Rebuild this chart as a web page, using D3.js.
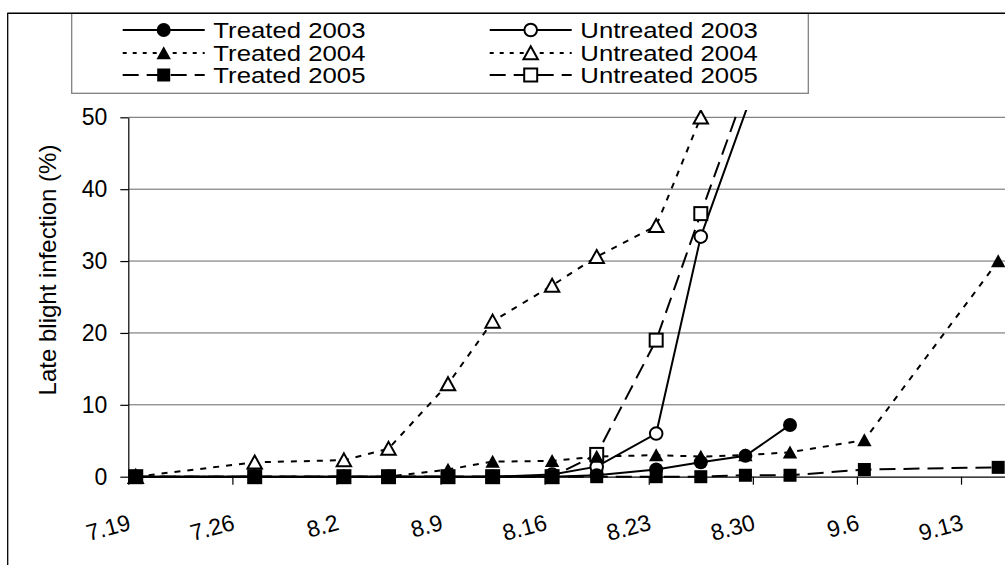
<!DOCTYPE html>
<meta charset="utf-8">
<head>
  <title>Late blight infection</title>
  <script src="https://d3js.org/d3.v7.min.js"></script>
  <style>
    body { margin: 0; background: #fff; }
    text { font-family: "Liberation Sans", Arial, sans-serif; fill: #000; }
    .grid line { stroke: #666; stroke-width: 1; }
    .axis path, .axis line { stroke: #000; stroke-width: 1.2; }
    .axis text { font-size: 23px; }
  </style>
</head>
<body>
<script>

// sampling dates, days after 7.19
var sampleDays  = [0, 8, 14, 17, 21, 24, 28, 31, 35, 38, 41, 44, 49, 58];
var sampleDates = ["7.19","7.27","8.2","8.5","8.9","8.12","8.16","8.19","8.23","8.26","8.29","9.1","9.6","9.15"];

var tickDays   = [0, 7, 14, 21, 28, 35, 42, 49, 56];
var tickLabels = ["7.19","7.26","8.2","8.9","8.16","8.23","8.30","9.6","9.13"];
var yTicks     = [0, 10, 20, 30, 40, 50];

// infection (%) per sampling date, null = not sampled
var treated2003   = [0, 0, 0, 0, 0, 0, 0, 0.2, 1.0, 2.0, 2.9, 7.2, null, null];
var untreated2003 = [0, 0, 0, 0, 0, 0, 0.3, 1.4, 6.0, 33.4, null, 68, null, null];
var treated2004   = [0, 0, 0, 0, 1.0, 2.1, 2.2, 2.8, 3.0, 2.8, 3.0, 3.4, 5.1, 30.0];
var untreated2004 = [0, 2.0, 2.3, 3.9, 12.9, 21.6, 26.6, 30.6, 34.9, 50.0, null, null, null, null];
var treated2005   = [0, 0, 0, 0, 0, 0, 0, 0, 0, 0, 0.2, 0.2, 1.0, 1.3];
var untreated2005 = [0, 0, 0, 0, 0, 0, 0, 3.1, 19.0, 36.6, null, 71, null, null];

var seriesNames = ["Treated 2003", "Untreated 2003", "Treated 2004", "Untreated 2004", "Treated 2005", "Untreated 2005"];
var seriesValues = [treated2003, untreated2003, treated2004, untreated2004, treated2005, untreated2005];

var styles = [
  {dash: null,   legendDash: null,   shape: "circle",   filled: true},
  {dash: null,   legendDash: null,   shape: "circle",   filled: false},
  {dash: "6,7",  legendDash: "4,6",  shape: "triangle", filled: true},
  {dash: "6,7",  legendDash: "4,6",  shape: "triangle", filled: false},
  {dash: "16,8", legendDash: "16,8", shape: "square",   filled: true},
  {dash: "16,8", legendDash: "16,8", shape: "square",   filled: false}
];

var series = seriesNames.map(function(name, i) {
  var pts = [];
  seriesValues[i].forEach(function(v, j) {
    if (v !== null) pts.push({day: sampleDays[j], date: sampleDates[j], value: v});
  });
  return {name: name, points: pts, style: styles[i]};
});

var W = 1005, H = 565;
var plotLeft = 128.3, plotBottom = 476.7, plotTop = 117.3;
var dayWidth = 14.87;

var svg = d3.select("body").append("svg")
    .attr("width", W)
    .attr("height", H);

var x = d3.scaleLinear().domain([0, 60]).range([plotLeft, plotLeft + 60 * dayWidth]);
var y = d3.scaleLinear().domain([0, 50]).range([plotBottom, plotTop]);
// Excel time axis puts each point in the middle of its day
function px(d) { return x(d.day + 0.5); }
function py(d) { return y(d.value); }

// outer chart frame
svg.append("rect")
    .attr("x", 7.7).attr("y", 13.3)
    .attr("width", 1100).attr("height", 700)
    .attr("fill", "#fff")
    .attr("stroke", "#000")
    .attr("stroke-width", 1.3);

// gridlines
svg.append("g")
    .attr("class", "grid")
  .selectAll("line")
    .data(yTicks.slice(1))
  .enter().append("line")
    .attr("x1", plotLeft).attr("x2", x(60))
    .attr("y1", function(d) { return y(d); })
    .attr("y2", function(d) { return y(d); });

svg.append("g")
    .attr("class", "axis")
    .attr("transform", "translate(" + plotLeft + ",0)")
    .call(d3.axisLeft(y).tickValues(yTicks).tickSize(8).tickSizeOuter(0).tickPadding(13));

var xAxis = svg.append("g")
    .attr("class", "axis")
    .attr("transform", "translate(0," + plotBottom + ")")
    .call(d3.axisBottom(x).tickValues(tickDays).tickSize(8).tickSizeOuter(0)
      .tickFormat(function(d, i) { return tickLabels[i]; }));

xAxis.selectAll("text")
    .attr("y", null)
    .attr("dy", "0.35em")
    .attr("text-anchor", "end")
    .attr("transform", "translate(1,45) rotate(-15)");

svg.append("text")
    .attr("transform", "translate(48,270) rotate(-90)")
    .attr("text-anchor", "middle")
    .attr("dy", "0.35em")
    .style("font-size", "24px")
    .text("Late blight infection (%)");

// markers
function marker(sel, style) {
  var fill = style.filled ? "#000" : "#fff";
  if (style.shape === "circle") {
    sel.append("circle").attr("r", style.filled ? 7 : 6.3);
  } else if (style.shape === "square") {
    sel.append("rect").attr("x", -6.5).attr("y", -6.5).attr("width", 13).attr("height", 13);
  } else {
    sel.append("path").attr("d", "M0,-6.8L7.2,6.2L-7.2,6.2Z");
  }
  sel.selectAll("circle, rect, path")
    .attr("fill", fill)
    .attr("stroke", "#000")
    .attr("stroke-width", style.filled ? 0 : 2);
}

svg.append("clipPath")
    .attr("id", "plot-clip")
  .append("rect")
    .attr("x", plotLeft - 10).attr("y", 110)
    .attr("width", 920).attr("height", 400);

var plot = svg.append("g").attr("clip-path", "url(#plot-clip)");

var line = d3.line().x(px).y(py);

plot.selectAll("path.series")
    .data(series)
  .enter().append("path")
    .attr("class", "series")
    .attr("fill", "none")
    .attr("stroke", "#000")
    .attr("stroke-width", 2)
    .attr("stroke-dasharray", function(d) { return d.style.dash; })
    .attr("d", function(d) { return line(d.points); });

// open markers first, filled ones on top
[1, 3, 5, 0, 2, 4].forEach(function(i) {
  var s = series[i];
  plot.append("g").selectAll("g")
      .data(s.points)
    .enter().append("g")
      .attr("transform", function(d) { return "translate(" + px(d) + "," + py(d) + ")"; })
      .call(marker, s.style);
});

// legend
var legend = svg.append("g");

legend.append("rect")
    .attr("x", 71.7).attr("y", 13.3)
    .attr("width", 736.6).attr("height", 80)
    .attr("fill", "#fff")
    .attr("stroke", "#808080")
    .attr("stroke-width", 1.3);

svg.append("line")
    .attr("x1", 7.7).attr("x2", W)
    .attr("y1", 13.3).attr("y2", 13.3)
    .attr("stroke", "#000")
    .attr("stroke-width", 1.3);

var colX = [122.7, 489.7], rowY = [30, 53, 75];

series.forEach(function(s, i) {
  var lx = colX[i % 2], ly = rowY[Math.floor(i / 2)];
  var item = legend.append("g").attr("transform", "translate(" + lx + "," + ly + ")");
  item.append("line")
      .attr("x1", 0).attr("x2", 82)
      .attr("stroke", "#000")
      .attr("stroke-width", 2)
      .attr("stroke-dasharray", s.style.legendDash);
  item.append("g")
      .attr("transform", "translate(41,0)")
      .call(marker, s.style);
  item.append("text")
      .attr("transform", "translate(90.6,0) scale(1.12,1)")
      .attr("dy", "0.36em")
      .style("font-size", "23px")
      .text(s.name);
});

</script>
</body>
